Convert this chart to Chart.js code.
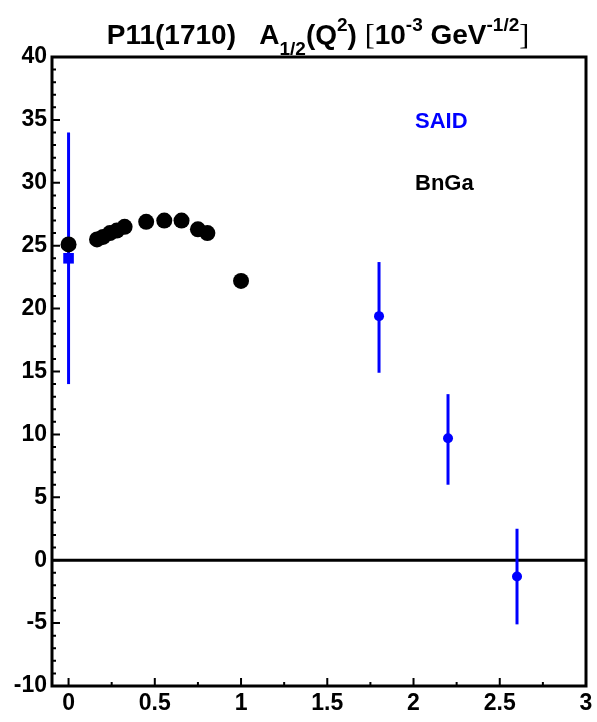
<!DOCTYPE html>
<html>
<head>
<meta charset="utf-8">
<script src="https://cdn.jsdelivr.net/npm/chart.js@4/dist/chart.umd.min.js"></script>
<style>
  html, body { margin: 0; padding: 0; background: #fff; }
  #wrap { width: 597px; height: 722px; }
</style>
</head>
<body>
<div id="wrap"><canvas id="plot" width="597" height="722"></canvas></div>
<script>
// axis ranges and tick labels
const X_MIN = -0.096, X_MAX = 3;
const Y_MIN = -10, Y_MAX = 40;
const X_TICKS = [0, 0.5, 1, 1.5, 2, 2.5, 3];
const Y_TICKS = [-10, -5, 0, 5, 10, 15, 20, 25, 30, 35, 40];

// BnGa points (black)
const bngaQ2 = [0, 0.165, 0.2, 0.24, 0.28, 0.325, 0.45, 0.555, 0.655, 0.75, 0.805, 1.0];
const bngaA  = [25.1, 25.5, 25.7, 26.0, 26.2, 26.5, 26.9, 27.0, 27.0, 26.3, 26.0, 22.2];

// SAID points (blue) with error bar ends
const saidQ2 = [0, 1.8, 2.2, 2.6];
const saidA  = [24.0, 19.4, 9.7, -1.3];
const saidHi = [34.0, 23.7, 13.2, 2.5];
const saidLo = [14.0, 14.9, 6.0, -5.1];

const BLUE = "#0000ff";
const FONT = '"Liberation Sans", Arial, sans-serif';

const pts = (xs, ys) => xs.map((x, i) => ({ x, y: ys[i] }));

// frame, zero line, inward ticks, error bars
const framePlugin = {
  id: "frame",
  beforeDatasetsDraw(chart){
    const { ctx, chartArea: a, scales: { x, y } } = chart;
    ctx.save();
    // zero line
    ctx.strokeStyle = "#000";
    ctx.lineWidth = 3;
    ctx.beginPath();
    ctx.moveTo(a.left, y.getPixelForValue(0));
    ctx.lineTo(a.right, y.getPixelForValue(0));
    ctx.stroke();

    // error bars
    ctx.strokeStyle = BLUE;
    ctx.lineWidth = 3;
    saidQ2.forEach((q, i) => {
      const px = x.getPixelForValue(q);
      ctx.beginPath();
      ctx.moveTo(px, y.getPixelForValue(saidHi[i]));
      ctx.lineTo(px, y.getPixelForValue(saidLo[i]));
      ctx.stroke();
    });
    ctx.restore();
  },
  afterDraw(chart){
    const { ctx, chartArea: a, scales: { x, y } } = chart;
    ctx.save();
    ctx.strokeStyle = "#000";
    ctx.lineWidth = 2;
    ctx.beginPath();
    // y ticks, every 1, major every 5
    for(let v = Y_MIN + 1; v < Y_MAX; v++){
      const py = y.getPixelForValue(v);
      const len = v % 5 === 0 ? 8 : 4;
      ctx.moveTo(a.left, py);
      ctx.lineTo(a.left + len, py);
    }
    // x ticks, every 0.25, major every 0.5
    for(let k = 0; k < 12; k++){
      const v = k * 0.25;
      const px = x.getPixelForValue(v);
      const len = k % 2 === 0 ? 8 : 4;
      ctx.moveTo(px, a.bottom);
      ctx.lineTo(px, a.bottom - len);
    }
    ctx.stroke();

    // frame
    ctx.lineWidth = 3;
    ctx.strokeRect(a.left, a.top, a.right - a.left, a.bottom - a.top);

    // legend texts
    ctx.textBaseline = "alphabetic";
    ctx.textAlign = "left";
    ctx.font = "bold 22px " + FONT;
    ctx.fillStyle = BLUE;
    ctx.fillText("SAID", 415, 128);
    ctx.fillStyle = "#000";
    ctx.fillText("BnGa", 415, 190);

    // title with sub/superscripts
    const main = "bold 28px " + FONT;
    const small = "bold 19px " + FONT;
    const brk = '30px "Liberation Serif", serif';
    const parts = [
      ["P11(1710)   A", main, 0],
      ["1/2", small, 11],
      ["(Q", main, 0],
      ["2", small, -13],
      [") ", main, 0],
      ["[", brk, 0],
      ["10", main, 0],
      ["-3", small, -13],
      [" GeV", main, 0],
      ["-1/2", small, -13],
      ["]", brk, 0]
    ];
    let total = 0;
    parts.forEach(p => { ctx.font = p[1]; total += ctx.measureText(p[0]).width; });
    let tx = 318 - total / 2;
    const base = 44;
    parts.forEach(([t, f, dy]) => {
      ctx.font = f;
      ctx.fillText(t, tx, base + dy);
      tx += ctx.measureText(t).width;
    });
    ctx.restore();
  }
};

new Chart(document.getElementById("plot"), {
  type: "scatter",
  data: {
    datasets: [
      {
        label: "BnGa",
        data: pts(bngaQ2, bngaA),
        pointStyle: "circle",
        pointRadius: 8,
        backgroundColor: "#000",
        borderColor: "#000",
        borderWidth: 0
      },
      {
        label: "SAID",
        data: pts(saidQ2, saidA),
        pointStyle: ["rect", "circle", "circle", "circle"],
        pointRadius: [7.5, 5, 5, 5],
        backgroundColor: BLUE,
        borderColor: BLUE,
        borderWidth: 0
      }
    ]
  },
  options: {
    responsive: false,
    animation: false,
    layout: { padding: { top: 57, right: 11, bottom: 0, left: 0 } },
    plugins: {
      legend: { display: false },
      tooltip: { enabled: false },
      title: { display: false }
    },
    scales: {
      x: {
        type: "linear",
        min: X_MIN,
        max: X_MAX,
        afterBuildTicks: s => { s.ticks = X_TICKS.map(v => ({ value: v })); },
        afterFit: s => { s.height = 36; },
        grid: { display: false, drawTicks: false },
        border: { display: false },
        ticks: {
          color: "#000",
          padding: 4,
          maxRotation: 0,
          autoSkip: false,
          font: { family: FONT, size: 23, weight: "bold" },
          callback: v => String(v)
        }
      },
      y: {
        type: "linear",
        min: Y_MIN,
        max: Y_MAX,
        afterBuildTicks: s => { s.ticks = Y_TICKS.map(v => ({ value: v })); },
        afterFit: s => { s.width = 52; },
        grid: { display: false, drawTicks: false },
        border: { display: false },
        ticks: {
          color: "#000",
          padding: 5,
          autoSkip: false,
          font: { family: FONT, size: 23, weight: "bold" },
          callback: v => String(v)
        }
      }
    }
  },
  plugins: [framePlugin]
});
</script>
</body>
</html>
